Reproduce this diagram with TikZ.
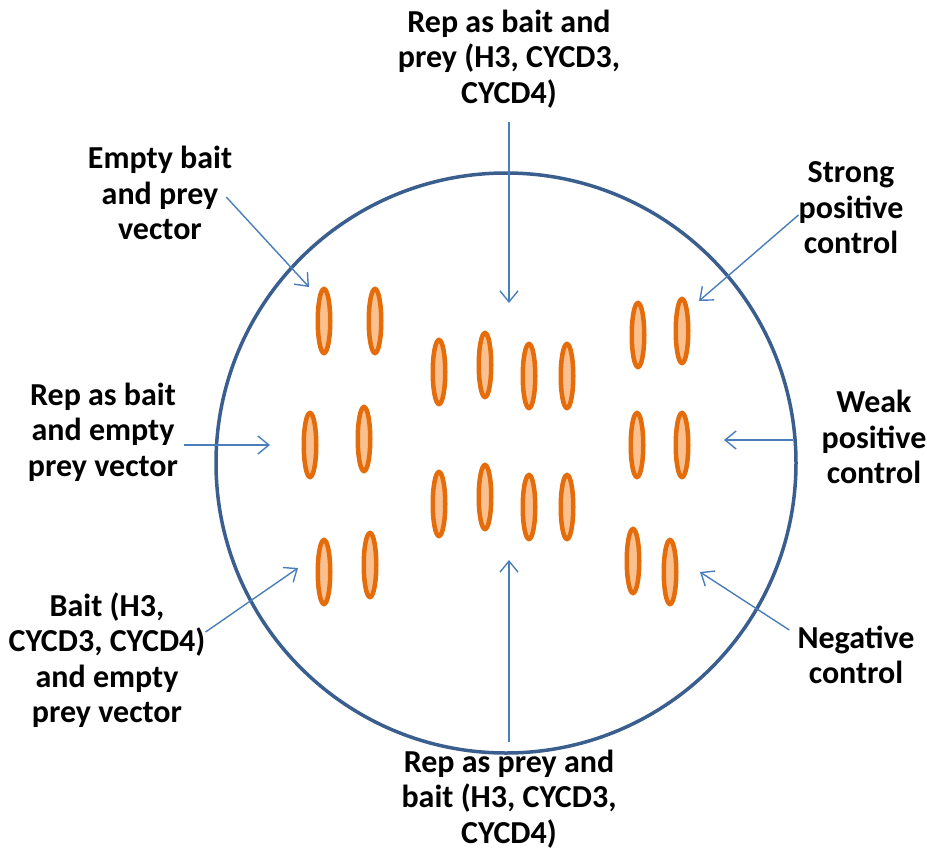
\documentclass[tikz,border=0pt]{standalone}
\usepackage{fontspec}
\setmainfont{Carlito}
\usetikzlibrary{shapes.geometric, arrows.meta, positioning}
\definecolor{platecol}{HTML}{3A5F8E}
\definecolor{arrowcol}{HTML}{4A7EBB}
\definecolor{colonyedge}{HTML}{E46C0A}
\definecolor{colonyfill}{HTML}{FAC090}

\begin{document}
\begin{tikzpicture}[x=1pt, y=-1pt,
    colony/.style={ellipse, draw=colonyedge, fill=colonyfill, line width=4.5pt,
                   inner sep=0pt, minimum width=12.5pt, minimum height=64pt},
    plate/.style={circle, draw=platecol, line width=3.5pt, inner sep=0pt,
                  minimum size=580pt},
    lbl/.style={align=center, inner sep=0pt, font=\fontsize{32}{35.5}\selectfont\bfseries},
    arrow/.style={-{Straight Barb[length=11pt, width=18pt]}, draw=arrowcol, line width=1.4pt}
]
\useasboundingbox (0,0) rectangle (927,854);
\node[plate] (plate) at (506,463) {};

% colonies on the plate
\foreach \x/\y [count=\i] in {324/321, 375/321, 310/445, 364/439, 324/572, 370/565,
    439/372, 485/365, 529/376, 567/376, 439/504, 485/497, 529/507, 567/507,
    638/335, 682/331, 637/445, 682/445, 633/561, 670/572}
  \node[colony] (c\i) at (\x,\y) {};

% labels
\node[lbl] (top) at (509,59) {Rep as bait and\\prey (H3, CYCD3,\\CYCD4)};
\node[lbl] (empty) at (160,193) {Empty bait\\and prey\\vector};
\node[lbl] (strong) at (851,208) {Strong\\positive\\control};
\node[lbl] (repempty) at (103,432) {Rep as bait\\and empty\\prey vector};
\node[lbl] (weak) at (874,437) {Weak\\positive\\control};
\node[lbl] (bait) at (107,660) {Bait (H3,\\CYCD3, CYCD4)\\and empty\\prey vector};
\node[lbl] (neg) at (856,655) {Negative\\control};
\node[lbl] (bottom) at (509,799) {Rep as prey and\\bait (H3, CYCD3,\\CYCD4)};

% arrow tips
\coordinate (tTop) at (509,303);
\coordinate (tEmpty) at (309,287);
\coordinate (tStrong) at (699,301);
\coordinate (tRepEmpty) at (270,445);
\coordinate (tWeak) at (724,440);
\coordinate (tBait) at (298,568);
\coordinate (tBottom) at (509,560);
\coordinate (tNeg) at (700,572);

\draw[arrow] ([yshift=-14pt]top.south) -- (tTop);
\draw[arrow] ([xshift=-6pt,yshift=-4pt]empty.east) -- (tEmpty);
\draw[arrow] ([yshift=-7pt]strong.west) -- (tStrong);
\draw[arrow] ([xshift=6pt]repempty.east |- tRepEmpty) -- (tRepEmpty);
\draw[arrow] ([xshift=-28pt]weak.west |- tWeak) -- (tWeak);
\draw[arrow] ([yshift=28pt]bait.east) -- (tBait);
\draw[arrow] ([yshift=8pt]bottom.north) -- (tBottom);
\draw[arrow] ([xshift=-8pt,yshift=25pt]neg.west) -- (tNeg);
\end{tikzpicture}
\end{document}
